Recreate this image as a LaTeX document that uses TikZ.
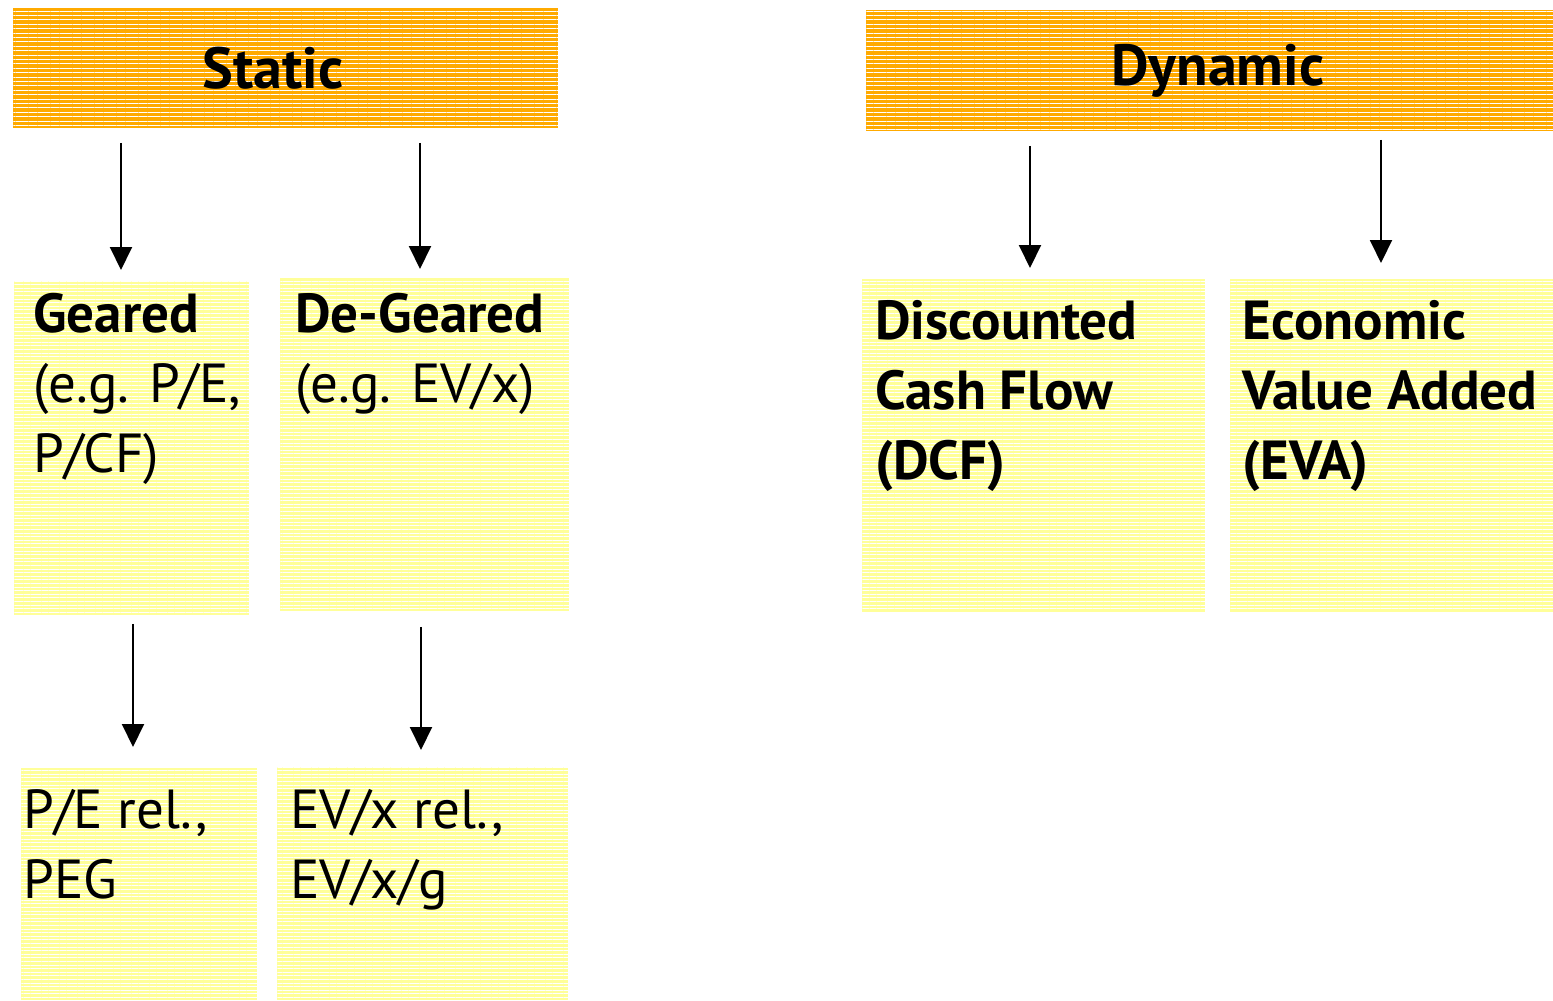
\documentclass[tikz,border=0pt]{standalone}
\usepackage{fontspec}
\setmainfont{PT Sans}
\usetikzlibrary{arrows.meta, patterns.meta}
\definecolor{hdrorange}{HTML}{FFAA00}
\definecolor{boxyellow}{HTML}{FFFF99}
\tikzset{>={Triangle[length=11.5pt,width=11pt]},
  hdr/.style={anchor=north west, inner sep=0pt, preaction={fill=hdrorange},
    pattern={Lines[angle=0,distance=2.2pt,line width=0.45pt]}, pattern color=white,
    font=\fontsize{29}{34}\selectfont\bfseries},
  ybox/.style={anchor=north west, inner sep=0pt, preaction={fill=boxyellow},
    pattern={Lines[angle=0,distance=1.8pt,line width=0.45pt]}, pattern color=white},
  txt/.style={anchor=north west, inner sep=0pt, align=left,
    font=\fontsize{27.5}{35}\selectfont},
  arr/.style={->, line width=1pt, shorten <=7pt, shorten >=6.5pt}}

\begin{document}
\begin{tikzpicture}[x=0.5pt, y=-0.5pt]
    \useasboundingbox (0,0) rectangle (1553,1001);
    % headers
    \node[hdr, minimum width=272.5pt, minimum height=60pt] (static) at (13,8) {Static\hspace*{13pt}};
    \node[hdr, minimum width=343.5pt, minimum height=60.5pt] (dynamic) at (866,10) {\hspace*{8pt}Dynamic};
    % boxes
    \node[ybox, minimum width=117.5pt, minimum height=167pt] (geared) at (14,281) {};
    \node[ybox, minimum width=144.5pt, minimum height=166.5pt] (degeared) at (280,278) {};
    \node[ybox, minimum width=171.5pt, minimum height=166.5pt] (dcf) at (862,279) {};
    \node[ybox, minimum width=161.5pt, minimum height=166.5pt] (eva) at (1230,279) {};
    \node[ybox, minimum width=118pt, minimum height=116pt] (perel) at (21,768) {};
    \node[ybox, minimum width=145.5pt, minimum height=116.5pt] (evxrel) at (277,767) {};
    % texts
    \node[txt] (gearedtxt) at (33,293) {\textbf{Geared}\\(e.g. P/E,\\P/CF)};
    \node[txt] (degearedtxt) at (295,293) {\textbf{De-Geared}\\(e.g. EV/x)};
    \node[txt, font=\fontsize{27.5}{35}\selectfont\bfseries] (dcftxt) at (875,300)
        {Discounted\\Cash Flow\\(DCF)};
    \node[txt, font=\fontsize{27.5}{35}\selectfont\bfseries] (evatxt) at (1242,300)
        {Economic\\Value Added\\(EVA)};
    \node[txt] (pereltxt) at (23,789) {P/E rel.,\\PEG};
    \node[txt] (evxreltxt) at (290,789) {EV/x rel.,\\EV/x/g};
    % arrows
    \draw[arr, shorten >=5.5pt] (static.south -| 121,0) -- (geared.north -| 121,0);
    \draw[arr, shorten >=4.5pt] (static.south -| 420,0) -- (degeared.north -| 420,0);
    \draw[arr, shorten >=5.5pt] (dynamic.south -| 1030,0) -- (dcf.north -| 1030,0);
    \draw[arr, shorten <=4pt, shorten >=8pt] (dynamic.south -| 1381,0) -- (eva.north -| 1381,0);
    \draw[arr, shorten <=4pt, shorten >=10.5pt] (geared.south -| 133,0) -- (perel.north -| 133,0);
    \draw[arr, shorten <=7.5pt, shorten >=8.5pt] (degeared.south -| 421,0) -- (evxrel.north -| 421,0);
\end{tikzpicture}
\end{document}
